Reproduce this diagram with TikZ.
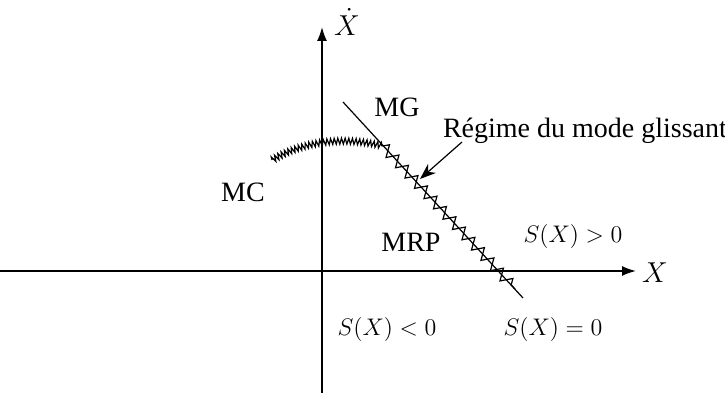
\documentclass[tikz,border=0pt]{standalone}
\usepackage{fontspec}
\setmainfont{Liberation Serif}
\usetikzlibrary{arrows.meta,decorations.pathmorphing}
\begin{document}
\begin{tikzpicture}[x=0.5pt,y=-0.5pt,
  lbl/.style={font=\fontsize{14}{16}\selectfont, inner sep=0pt},
  mlbl/.style={font=\fontsize{12.5}{15}\selectfont, inner sep=0pt},
  axis/.style={line width=0.8pt, -{Latex[length=7pt,width=5pt]}},
  chat/.style={line width=0.6pt, decorate, decoration={zigzag, segment length=1.8pt, amplitude=1.5pt}},
  slide/.style={line width=0.6pt, decorate, decoration={zigzag, segment length=7pt, amplitude=2.8pt}}]
\useasboundingbox (0,0) rectangle (725,394);
\coordinate (xa0) at (0,271);
\coordinate (xa1) at (636,271);
\coordinate (ya0) at (322,393);
\coordinate (ya1) at (322,27);
\coordinate (s0) at (343,102);
\coordinate (s1) at (523,298);
\coordinate (z0) at (383,146);
\coordinate (z1) at (515,289);
\coordinate (c0) at (272,160);
\coordinate (a0) at (462,142);
\coordinate (a1) at (420,179);
\draw[axis] (xa0) -- (xa1);
\draw[axis] (ya0) -- (ya1);
\draw[line width=0.6pt] (s0) -- (s1);
\draw[slide] (z0) -- (z1);
\draw[chat] (c0) .. controls (310,138) and (350,138) .. (z0);
\draw[line width=0.6pt, -{Stealth[length=8pt,width=6pt]}] (a0) -- (a1);
\node[lbl] (xdot) at (347,22) {$\dot{X}$};
\node[lbl] (xl) at (655,273) {$X$};
\node[lbl] (mg) at (397,107) {MG};
\node[lbl] (reg) at (585,131) {Régime du mode glissant};
\node[lbl] (mc) at (243,192) {MC};
\node[lbl] (mrp) at (411,242) {MRP};
\node[mlbl] (sp) at (573,237) {$S(X)>0$};
\node[mlbl] (sn) at (387,330) {$S(X)<0$};
\node[mlbl] (sz) at (553,330) {$S(X)=0$};
\end{tikzpicture}
\end{document}
